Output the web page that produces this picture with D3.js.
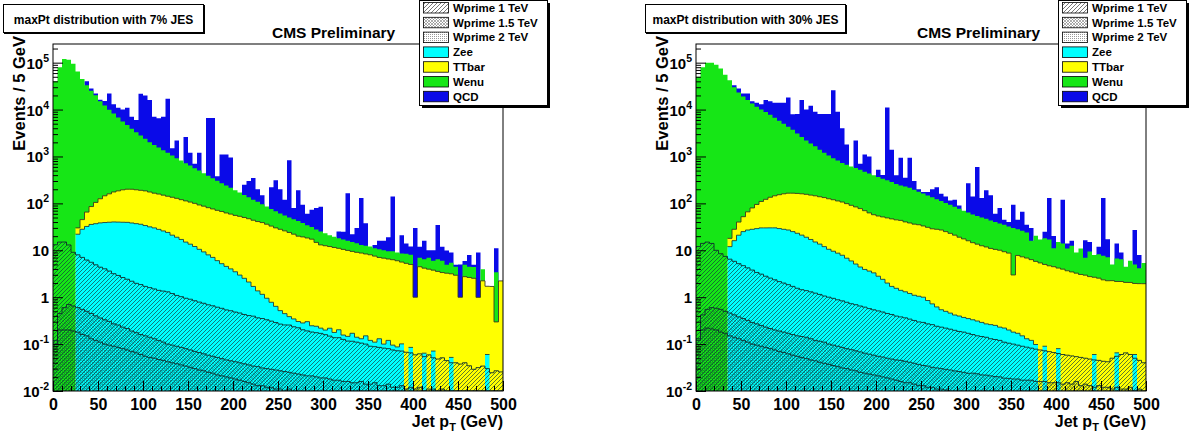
<!DOCTYPE html>
<html>
<head>
<meta charset="utf-8">
<script src="https://cdn.jsdelivr.net/npm/d3@7/dist/d3.min.js"></script>
<style>
  html, body { margin: 0; padding: 0; background: #ffffff; }
  svg { display: block; }
  text { font-family: "Liberation Sans", Arial, Helvetica, sans-serif; font-weight: bold; fill: #000; }
</style>
</head>
<body>
<svg id="chart" width="1197" height="435" xmlns="http://www.w3.org/2000/svg"></svg>
<script>
// ---------------- categories & labels ----------------
const binLowEdges = d3.range(0, 500, 5);          // 100 bins of 5 GeV
const binWidth = 5;
const xTickValues = [0, 50, 100, 150, 200, 250, 300, 350, 400, 450, 500];
const yTickExponents = [-2, -1, 0, 1, 2, 3, 4, 5];
const legendLabels = ["Wprime 1 TeV", "Wprime 1.5 TeV", "Wprime 2 TeV", "Zee", "TTbar", "Wenu", "QCD"];
const panelTitles = ["maxPt distribution with 7% JES", "maxPt distribution with 30% JES"];
const headerText = "CMS Preliminary";
const yAxisTitle = "Events / 5 GeV";

// ---------------- series values: 7% JES ----------------
const wp2_7 = [0.1,0.2,0.2,0.2,0.19,0.18,0.16,0.15,0.13,0.12,
0.11,0.1,0.095,0.09,0.085,0.08,0.075,0.07,0.065,0.06,
0.055,0.052,0.05,0.047,0.045,0.042,0.04,0.038,0.036,0.034,
0.032,0.03,0.028,0.027,0.025,0.024,0.022,0.021,0.02,0.019,
0.018,0.017,0.016,0.015,0.014,0.013,0.013,0.012,0.012,0.011,
0.011,0.01,0.011,0.0095,0.01,0.009,0.0095,0.009,0.0085,0.009,
0.008,0.0085,0.008,0.0075,0.008,0.007,0.0075,0.007,0.0065,0.007,
0.006,0.0065,0.006,0.0055,0.006,0.005,0.0055,0.005,0.005,0.0045,
0.005,0.0045,0.004,0.0045,0.004,0.004,0.0035,0.004,0.0035,0.003,
0.0035,0.003,0.003,0.0035,0.003,0.0025,0.003,0.0025,0.0025,0.002];
const wp15_7 = [0.02,0.25,0.4,0.5,0.46,0.42,0.39,0.35,0.32,0.28,
0.25,0.23,0.21,0.18,0.17,0.15,0.14,0.12,0.11,0.1,
0.095,0.088,0.08,0.073,0.065,0.058,0.055,0.052,0.049,0.046,
0.043,0.04,0.038,0.035,0.033,0.031,0.03,0.028,0.026,0.025,
0.024,0.023,0.022,0.021,0.02,0.02,0.018,0.018,0.017,0.017,
0.016,0.016,0.014,0.0145,0.013,0.013,0.0115,0.012,0.0115,0.01,
0.011,0.0095,0.009,0.0095,0.008,0.009,0.0075,0.008,0.0095,0.007,
0.008,0.0085,0.007,0.0075,0.008,0.007,0.0065,0.008,0.006,0.0075,
0.006,0.0075,0.006,0.0065,0.007,0.006,0.0075,0.0055,0.0065,0.006,
0.006,0.007,0.0055,0.0055,0.0055,0.0055,0.006,0.005,0.0055,0.0055];
const wp1_7 = [13,14.5,14.4,12.3,8.4,7.4,6.5,5.7,5.1,4.5,
4.0,3.7,3.3,2.9,2.65,2.4,2.2,2.0,1.8,1.7,
1.55,1.46,1.37,1.28,1.24,1.2,1.1,1.0,0.94,0.87,
0.83,0.77,0.72,0.68,0.63,0.6,0.56,0.53,0.49,0.47,
0.44,0.42,0.39,0.37,0.36,0.33,0.32,0.3,0.28,0.26,
0.24,0.23,0.23,0.21,0.2,0.18,0.17,0.16,0.155,0.15,
0.14,0.13,0.12,0.12,0.11,0.1,0.1,0.095,0.089,0.086,
0.076,0.073,0.072,0.069,0.066,0.063,0.06,0.058,0.056,0.053,
0.048,0.05,0.044,0.048,0.04,0.038,0.04,0.035,0.03,0.031,
0.028,0.03,0.026,0.02,0.023,0.026,0.021,0.017,0.019,0.018];
const zee7 = [0,0,0,0,0,14,21,26,30,32,
34,35,36,37,37,37,37,36,35,34,
32,30,28.5,26.5,24.5,22.7,19.8,17.9,16,14,
12.6,11.2,9.7,8.5,7.3,6.4,5.4,4.6,4.0,3.5,
3.0,2.5,2.1,1.7,1.3,1.0,0.8,0.62,0.47,0.35,
0.25,0.19,0.13,0.11,0.08,0.08,0.11,0.065,0.065,0.05,
0.04,0.07,0.04,0.065,0.03,0.03,0.055,0.03,0.025,0.05,
0.03,0.022,0.045,0.018,0.04,0.02,0.015,0.03,0,0.02,
0,0,0.01,0,0.02,0,0,0,0.012,0,
0,0,0,0,0,0,0.03,0,0,0];
const tt7 = [0,0,0,0,0,8,17,33,50,68,
87,106,120,135,145,155,161,162,158,154,
151,143,135,130,124,118,114,109,103,98,
93,88,82,78,73,69,65,62,58,55,
52,50,47.5,45,42,39.6,37.8,35,32,29.4,
27.5,25.5,23.6,21.7,19.7,19,18,17,14.5,12.8,
12.3,11.8,11.3,10.8,10.3,9.8,9.3,8.9,8.6,8.2,
7.9,7.4,6.9,6.7,6.4,6.2,5.9,5.5,5.2,4.9,
0.94,4.4,4.1,3.9,3.7,3.5,3.3,3.2,3.1,2.9,
0.96,2.7,2.6,2.5,0.96,2.2,1.65,1.67,0.27,2.2];
const wenu7 = [40000,80000,120000,115000,95000,65000,45000,33000,25000,20000,
15000,12000,9800,8100,6600,5400,4500,3700,3100,2600,
2200,1830,1590,1390,1200,1060,915,790,700,607,
533,460,407,353,309,269,234,203,177,156,
134,117,100,88,76,67,57,50,43,38,
33,29,26,24,22,19,16,14,13,12,
10.5,9,8,7,6.5,6,5.5,5,4.3,4.2,
4,3.5,3.5,3.2,3,3.2,3,2.9,3.2,3,
0,2.5,2.3,3,2.2,2.9,2.6,1.7,2.3,1.5,
0,2.2,1.8,1.9,0,1.7,0,0,3.1,0];
const qcd7 = [0,0,0,0,0,0,0,7000,3000,2000,
1000,3000,12000,4700,4200,4400,6300,3100,2700,19000,
17600,14000,5250,4950,5650,15800,450,1280,0,1880,
560,140,700,0,6200,6250,75,830,860,735,
0,0,100,165,230,92,54,0,144,242,
139,65,780,34,148,55,26,42,52,60,
0,0,0,7,8,148,7,16,117,25,
0,2,5.5,6,9.5,130,0,12.5,5.5,4,
29,5,9.5,3,4,28,6,5,3.5,0.5,
4,1,3.5,0.5,8,0,0,0,7.6,0];

// ---------------- series values: 30% JES ----------------
const wp2_30 = [0.12,0.2,0.22,0.21,0.2,0.18,0.17,0.15,0.14,0.13,
0.12,0.11,0.1,0.095,0.09,0.085,0.08,0.075,0.07,0.066,
0.062,0.058,0.055,0.052,0.049,0.046,0.044,0.041,0.039,0.037,
0.035,0.033,0.031,0.03,0.028,0.027,0.025,0.024,0.023,0.022,
0.021,0.02,0.019,0.018,0.017,0.016,0.015,0.015,0.014,0.013,
0.013,0.012,0.012,0.011,0.011,0.0105,0.01,0.0098,0.0095,0.009,
0.0088,0.0085,0.0083,0.008,0.0078,0.0075,0.0073,0.007,0.0068,0.0066,
0.0064,0.0062,0.006,0.0058,0.0056,0.0054,0.0052,0.005,0.0049,0.0047,
0.0046,0.0044,0.0043,0.0042,0.004,0.0039,0.0038,0.0037,0.0036,0.0035,
0.0034,0.0033,0.0032,0.0031,0.003,0.0029,0.0029,0.0028,0.0027,0.0026];
const wp15_30 = [0.01,0.22,0.33,0.39,0.38,0.37,0.33,0.31,0.28,0.25,
0.23,0.21,0.19,0.175,0.16,0.145,0.135,0.125,0.12,0.114,
0.108,0.102,0.095,0.093,0.091,0.084,0.076,0.074,0.071,0.063,
0.06,0.057,0.054,0.05,0.048,0.045,0.043,0.04,0.038,0.036,
0.034,0.033,0.031,0.03,0.029,0.029,0.028,0.026,0.025,0.024,
0.022,0.022,0.02,0.02,0.019,0.0185,0.018,0.017,0.0165,0.016,
0.015,0.0155,0.015,0.014,0.014,0.0135,0.013,0.013,0.012,0.012,
0.0116,0.0118,0.011,0.0112,0.0114,0.0106,0.0108,0.011,0.0101,0.0103,
0.0104,0.0096,0.0107,0.0098,0.012,0.0091,0.0102,0.0093,0.0084,0.0095,
0.0086,0.0087,0.0078,0.0089,0.008,0.0081,0.0091,0.0072,0.0083,0.0074];
const wp1_30 = [11.9,13.6,14.4,13.4,9.4,7.9,6.9,6.0,5.4,4.8,
4.35,3.9,3.5,3.1,2.85,2.57,2.34,2.15,1.96,1.82,
1.68,1.54,1.4,1.3,1.24,1.17,1.1,1.03,0.95,0.9,
0.85,0.79,0.75,0.7,0.65,0.62,0.58,0.55,0.51,0.48,
0.455,0.43,0.4,0.38,0.35,0.335,0.32,0.3,0.28,0.26,
0.255,0.236,0.228,0.209,0.2,0.19,0.18,0.17,0.16,0.155,
0.146,0.136,0.127,0.123,0.118,0.109,0.105,0.1,0.091,0.086,
0.082,0.077,0.073,0.069,0.065,0.062,0.059,0.056,0.054,0.051,
0.048,0.046,0.043,0.042,0.038,0.039,0.036,0.035,0.034,0.032,
0.031,0.03,0.039,0.043,0.049,0.054,0.048,0.04,0.034,0.03];
const zee30 = [0,0,0,0,0,0,0,5.5,10.2,15.8,
20.3,22.8,24.2,25.6,26.9,27.2,27.5,27.7,26.9,26,
25.2,23.3,21.5,19.6,17.6,15.7,13.8,12.4,10.9,9.5,
8.6,7.8,7.0,6.0,5.2,4.4,3.75,3.29,3.03,2.76,
2.29,1.92,1.55,1.27,1.15,1.02,0.94,0.86,0.78,0.75,
0.71,0.58,0.46,0.38,0.31,0.28,0.25,0.22,0.21,0.19,
0.18,0.17,0.16,0.145,0.13,0.13,0.125,0.11,0.11,0.095,
0.08,0.075,0.06,0.044,0.038,0.02,0,0.018,0,0,
0.017,0,0,0,0,0,0,0,0.014,0,
0,0,0,0.01,0,0,0,0.01,0,0];
const tt30 = [0,0,0,0,0,0,0,6,12,19,
27,39,52,66,80,92,105,115,124,132,
138,140,140,139,137,133,130,125,121,115,
110,104,99,92,85,79,73,66,59,54,
51,49,47,45,43,42,39,37,35,34,
32,30,28,27.4,26.5,24.5,22.5,20.6,18.6,17.1,
15.6,14.2,13.2,12.2,11.5,10.7,10.2,9.8,9.1,8.5,
2.8,7.6,7.1,6.7,6.2,5.7,5.3,4.9,4.6,4.4,
4.1,3.9,3.6,3.4,3.2,3.0,2.9,2.7,2.6,2.5,
2.3,2.2,2.2,2.1,2.1,2.0,2.0,1.9,1.9,1.9];
const wenu30 = [50000,80000,100000,100000,90000,75000,55000,42000,30000,23000,
19000,16000,13400,11400,9900,8700,7600,6550,5650,4840,
4130,3530,2940,2440,2040,1750,1500,1260,1070,924,
800,707,623,571,524,481,443,405,372,343,
311,284,261,238,215,197,188,177,159,143,
129,117,106,95,85,77,70,64,58,52,
48,43.5,40.5,37.5,35,32,29.5,27,25.7,23.3,
27,20.2,18.7,17.2,9.7,14.7,11.6,13,12.3,6.6,
10.8,10,7.3,9,5.7,7.9,4,6.7,5.3,5.7,
5.3,4.9,2.7,4.5,4.3,2.4,3.9,3,2.2,3.4];
const qcd30 = [0,0,0,0,0,0,0,0,3000,5000,
3000,6000,1500,2500,3000,7200,7300,7300,8200,9000,
13700,4300,4900,13400,7800,10100,7350,6600,6800,6950,
25000,8180,3270,1130,0,1635,180,625,565,0,
155,65,10700,1115,140,700,122,725,105,22,
13,27,65,97,48,38,22,35,13,0,
206,82,546,80,143,107,20,43,10,8,
63,17,40,11,14,0,0,7,113,9,
0,106,3,3.5,0,0,9.5,5.5,0,3.7,
122,10,0,7.3,2.5,0,0,22,3.8,0];

// ---------------- drawing ----------------
const svg = d3.select("#chart");
const defs = svg.append("defs");
const FT = 44, FB = 391;
const layerKeys = ["w2", "w15", "w1", "zee", "tt", "wenu", "qcd"];
const layerStyle = {
  qcd:  { fill: "#0a0ae8", outline: null },
  wenu: { fill: "#16e616", outline: null },
  tt:   { fill: "#ffff00", outline: "#3a3a20" },
  zee:  { fill: "#00ffff", outline: "#1f4040" },
  w1:   { fill: "url(#pW1)", outline: "#0e2e2e" },
  w15:  { fill: "url(#pW15)", outline: "#0e2e2e" },
  w2:   { fill: "url(#pW2)", outline: "#0e2e2e" }
};

function pattern(id, size, bg, build) {
  const p = defs.append("pattern").attr("id", id).attr("patternUnits", "userSpaceOnUse")
    .attr("width", size).attr("height", size);
  if (bg) p.append("rect").attr("width", size).attr("height", size).attr("fill", bg);
  build(p);
}
pattern("pW1", 4, null, p => p.append("path").attr("d", "M-1,1 L1,-1 M0,4 L4,0 M3,5 L5,3")
  .attr("stroke", "#103c3c").attr("stroke-width", 0.9).attr("stroke-opacity", 0.75));
pattern("pW15", 3, null, p => p.append("path").attr("d", "M-1,1 L1,-1 M0,3 L3,0 M2,4 L4,2 M-1,2 L1,4 M0,0 L3,3 M2,-1 L4,1")
  .attr("stroke", "#0a3030").attr("stroke-width", 0.6).attr("stroke-opacity", 0.45));
pattern("pW2", 2, null, p => p.append("rect").attr("width", 1).attr("height", 1)
  .attr("fill", "#082828").attr("fill-opacity", 0.25));
pattern("lW1", 4, "#fff", p => p.append("path").attr("d", "M-1,1 L1,-1 M0,4 L4,0 M3,5 L5,3")
  .attr("stroke", "#555").attr("stroke-width", 0.8));
pattern("lW15", 3, "#fff", p => p.append("path").attr("d", "M-1,1 L1,-1 M0,3 L3,0 M2,4 L4,2 M-1,2 L1,4 M0,0 L3,3 M2,-1 L4,1")
  .attr("stroke", "#777").attr("stroke-width", 0.6));
pattern("lW2", 2, "#fff", p => p.append("rect").attr("width", 1).attr("height", 1).attr("fill", "#999"));
const legendFills = ["url(#lW1)", "url(#lW15)", "url(#lW2)", "#00ffff", "#ffff00", "#16e616", "#0a0ae8"];

function drawPanel(cfg, idx) {
  const g = svg.append("g");
  const x = d3.scaleLinear().domain([0, 500]).range([cfg.x0, cfg.x1]);
  const y = d3.scaleLog().domain([0.01, 2.5e5]).range([FB, FT]);
  const yc = v => Math.max(FT - 2, Math.min(FB, y(Math.max(v, 1e-5))));

  const rows = binLowEdges.map((lo, i) => {
    const r = { lo };
    layerKeys.forEach(k => { r[k] = cfg.series[k][i]; });
    return r;
  });
  const stacked = d3.stack().keys(layerKeys)(rows);

  const clipId = "clip" + idx;
  defs.append("clipPath").attr("id", clipId).append("rect")
    .attr("x", cfg.x0).attr("y", FT).attr("width", cfg.x1 - cfg.x0).attr("height", FB - FT);
  const plot = g.append("g").attr("clip-path", `url(#${clipId})`);

  for (let k = layerKeys.length - 1; k >= 0; k--) {
    const key = layerKeys[k];
    const st = layerStyle[key];
    const runs = [];
    let cur = null;
    stacked[k].forEach((d, i) => {
      if (d.data[key] > 0) {
        if (!cur) { cur = []; runs.push(cur); }
        cur.push({ lo: d.data.lo, top: d[1] });
      } else cur = null;
    });
    let fillD = "", lineD = "";
    runs.forEach(run => {
      let p = `M${x(run[0].lo)},${FB}`;
      let l = `M${x(run[0].lo)},${yc(run[0].top)}`;
      run.forEach(b => {
        p += `V${yc(b.top)}H${x(b.lo + binWidth)}`;
        l += `V${yc(b.top)}H${x(b.lo + binWidth)}`;
      });
      lineD += l;
      fillD += p + `V${FB}Z`;
    });
    plot.append("path").attr("d", fillD).attr("fill", st.fill);
    if (st.outline) {
      plot.append("path").attr("d", lineD).attr("fill", "none")
        .attr("stroke", st.outline).attr("stroke-width", 0.9);
    }
  }

  // frame
  g.append("rect").attr("x", cfg.x0).attr("y", FT).attr("width", cfg.x1 - cfg.x0)
    .attr("height", FB - FT).attr("fill", "none").attr("stroke", "#000").attr("stroke-width", 1);

  // x axis (ticks inside)
  const xMinor = d3.range(0, 501, 10);
  g.append("g").attr("transform", `translate(0,${FB})`)
    .call(d3.axisBottom(x).tickValues(xMinor).tickSizeInner(-5).tickSizeOuter(0).tickFormat(""))
    .call(a => a.select(".domain").remove());
  const xa = g.append("g").attr("transform", `translate(0,${FB})`)
    .call(d3.axisBottom(x).tickValues(xTickValues).tickSizeInner(-10).tickSizeOuter(0).tickFormat(d3.format("d")));
  xa.select(".domain").remove();
  xa.selectAll(".tick text").attr("y", 19).attr("dy", 0)
    .style("font-size", "16px").style("font-family", '"Liberation Sans", Arial, sans-serif').style("font-weight", "bold");

  // y axis minor + major ticks
  const yMinor = [];
  yTickExponents.forEach(e => { for (let m = 2; m <= 9; m++) { const v = m * Math.pow(10, e); if (v < 2.5e5) yMinor.push(v); } });
  g.append("g").attr("transform", `translate(${cfg.x0},0)`)
    .call(d3.axisLeft(y).tickValues(yMinor).tickSizeInner(-5).tickSizeOuter(0).tickFormat(""))
    .call(a => a.select(".domain").remove());
  const ya = g.append("g").attr("transform", `translate(${cfg.x0},0)`)
    .call(d3.axisLeft(y).tickValues(yTickExponents.map(e => Math.pow(10, e))).tickSizeInner(-10).tickSizeOuter(0).tickFormat(""));
  ya.select(".domain").remove();
  ya.selectAll(".tick text").remove();
  ya.selectAll(".tick").each(function (v, i) {
    const e = yTickExponents[i];
    const t = d3.select(this).append("text").attr("x", -4).attr("y", 5.5)
      .attr("text-anchor", "end").style("font-size", "15px").attr("fill", "#000");
    if (e === 0) t.text("1");
    else if (e === 1) t.text("10");
    else {
      t.append("tspan").text("10");
      t.append("tspan").attr("dy", -7).style("font-size", "10.5px").text(String(e));
    }
  });

  // x axis title
  const xt = g.append("text").attr("x", cfg.x1).attr("y", 427).attr("text-anchor", "end")
    .style("font-size", "16px");
  xt.append("tspan").text("Jet p");
  xt.append("tspan").attr("dy", 4).style("font-size", "11px").text("T");
  xt.append("tspan").attr("dy", -4).text(" (GeV)");

  // title pave
  g.append("rect").attr("x", cfg.tb + 1).attr("y", 5).attr("width", 201).attr("height", 29).attr("fill", "#000");
  g.append("rect").attr("x", cfg.tb + 0.5).attr("y", 4.5).attr("width", 200).attr("height", 28)
    .attr("fill", "#fff").attr("stroke", "#000").attr("stroke-width", 1);
  g.append("text").attr("x", cfg.tb + 100.5).attr("y", 23.5).attr("text-anchor", "middle")
    .style("font-size", "12px").text(panelTitles[idx]);

  // y axis title (drawn after the pave)
  g.append("text").attr("transform", `translate(${cfg.x0 - 28},36) rotate(-90)`)
    .attr("text-anchor", "end").style("font-size", "16.5px").text(yAxisTitle);

  // header
  g.append("text").attr("x", cfg.cms).attr("y", 37.5).style("font-size", "15.5px").text(headerText);

  // legend
  const lx = cfg.leg, lw = 128, lh = 105;
  g.append("rect").attr("x", lx + 3).attr("y", 3).attr("width", lw).attr("height", lh).attr("fill", "#000");
  g.append("rect").attr("x", lx + 0.5).attr("y", 0.5).attr("width", lw).attr("height", lh)
    .attr("fill", "#fff").attr("stroke", "#000").attr("stroke-width", 1);
  legendLabels.forEach((lab, i) => {
    const cy = 7.5 + 14.8 * i;
    g.append("rect").attr("x", lx + 4.5).attr("y", cy - 5).attr("width", 25).attr("height", 10.5)
      .attr("fill", legendFills[i]).attr("stroke", "#000").attr("stroke-width", 0.8);
    g.append("text").attr("x", lx + 34).attr("y", cy + 4.2).style("font-size", "11.5px").text(lab);
  });
}

const panels = [
  { x0: 53, x1: 503, tb: 3, cms: 272, leg: 419,
    series: { w2: wp2_7, w15: wp15_7, w1: wp1_7, zee: zee7, tt: tt7, wenu: wenu7, qcd: qcd7 } },
  { x0: 696, x1: 1146, tb: 645, cms: 917, leg: 1058,
    series: { w2: wp2_30, w15: wp15_30, w1: wp1_30, zee: zee30, tt: tt30, wenu: wenu30, qcd: qcd30 } }
];
panels.forEach((p, i) => drawPanel(p, i));
</script>
</body>
</html>
